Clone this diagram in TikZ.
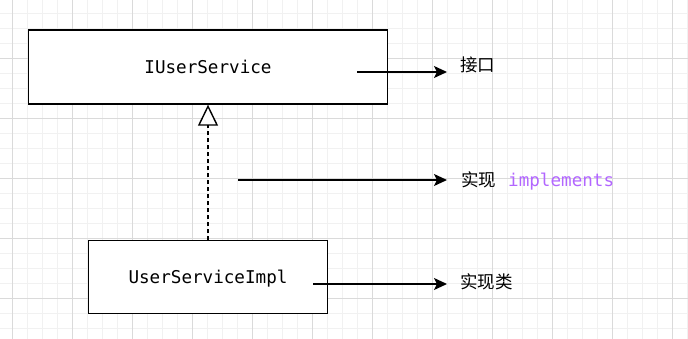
\documentclass[tikz,border=0pt]{standalone}
\usepackage{fontspec}
\setmonofont{DejaVu Sans Mono}
\newfontfamily\cjk{Noto Sans CJK SC}
\usetikzlibrary{arrows.meta}
\definecolor{gridmajor}{HTML}{DADADA}
\definecolor{gridminor}{HTML}{F1F1F1}
\definecolor{implcol}{HTML}{B266FF}
\begin{document}
\begin{tikzpicture}[x=1pt,y=-1pt,
  box/.style={draw=black, line width=1.4pt, fill=white, inner sep=0pt,
    font=\fontsize{17.6}{20}\selectfont\ttfamily, text depth=0pt},
  lbl/.style={anchor=base west, inner sep=0pt, font=\fontsize{17.5}{20}\selectfont\cjk},
  monolbl/.style={anchor=base west, inner sep=0pt, text=implcol,
    font=\fontsize{17.6}{20}\selectfont\ttfamily},
  arr/.style={line width=1.4pt, -{Stealth[length=13pt,width=12pt,inset=3pt]}},
  realize/.style={line width=1.7pt, dash pattern=on 4pt off 3pt,
    -{Triangle[open,length=21pt,width=20pt,fill=white,line width=1.4pt]}}]
\useasboundingbox (0,0) rectangle (688,339);
\fill[white] (0,0) rectangle (688,339);
% grid
\foreach \x in {12,27,...,687} \draw[gridminor, line width=0.8pt] (\x,0) -- (\x,339);
\foreach \y in {13,28,...,338} \draw[gridminor, line width=0.8pt] (0,\y) -- (688,\y);
\foreach \x in {12,72,...,672} \draw[gridmajor, line width=0.8pt] (\x,0) -- (\x,339);
\foreach \y in {58,118,...,298} \draw[gridmajor, line width=0.8pt] (0,\y) -- (688,\y);
% boxes
\node[box, minimum width=359pt, minimum height=74pt] (iface) at (208,67) {IUserService};
\node[box, minimum width=239pt, minimum height=73pt] (impl) at (208,277) {UserServiceImpl};
% realization
\draw[realize] (impl.north) -- (iface.south);
% labels
\node[lbl] (l1) at (460,72) {接口};
\node[lbl] (l2) at (461,187) {实现};
\node[monolbl] (l2b) at (508,187) {implements};
\node[lbl] (l3) at (460,288) {实现类};
% arrow coordinates
\coordinate (s1) at (357,72);
\coordinate (e1) at (447,72);
\coordinate (s2) at (238,180);
\coordinate (e2) at (447,180);
\coordinate (s3) at (313,284);
\coordinate (e3) at (447,284);
\draw[arr] (s1) -- (e1);
\draw[arr] (s2) -- (e2);
\draw[arr] (s3) -- (e3);
\end{tikzpicture}
\end{document}
